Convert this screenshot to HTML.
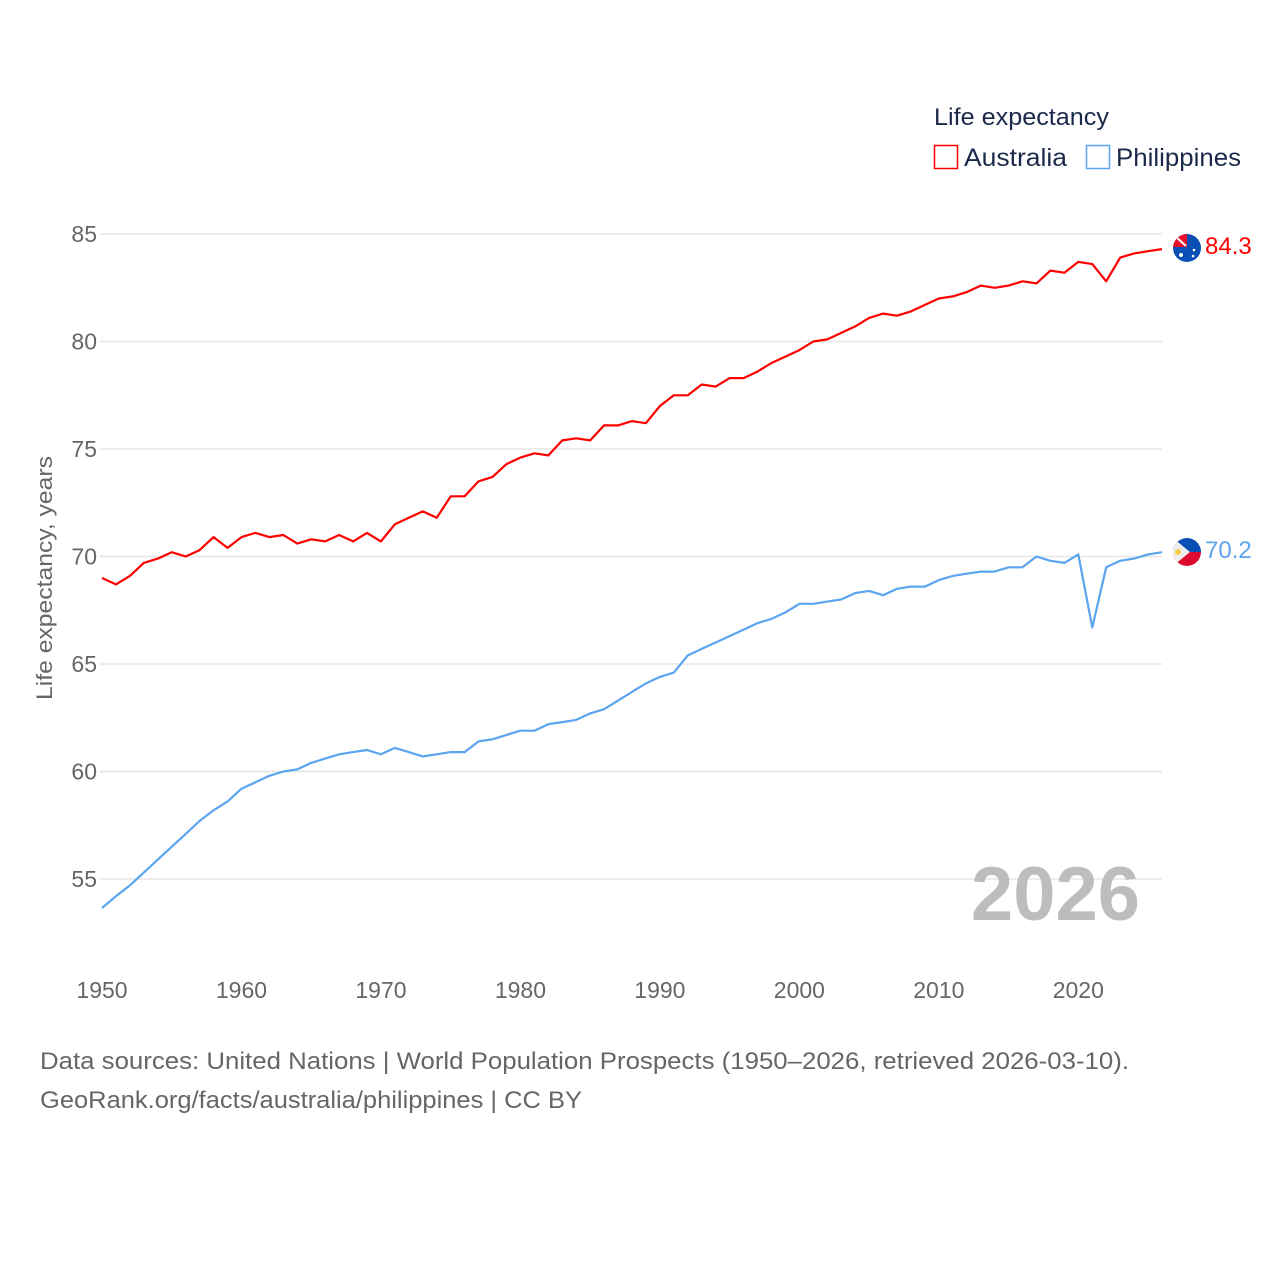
<!DOCTYPE html>
<html><head><meta charset="utf-8"><style>
body{margin:0;background:#fff;}
svg text{font-family:"Liberation Sans",sans-serif;}
</style></head><body>
<svg id="chart" width="1280" height="1280" viewBox="0 0 1280 1280" xmlns="http://www.w3.org/2000/svg">
<rect width="1280" height="1280" fill="#fff"/>
<g id="grid"></g>
<g id="yticks"></g>
<g id="xticks"></g>
<text x="52" y="578" transform="rotate(-90 52 578)" text-anchor="middle" font-size="22" fill="#666" textLength="244" lengthAdjust="spacingAndGlyphs">Life expectancy, years</text>
<text x="1140" y="920" text-anchor="end" font-size="76" font-weight="bold" fill="#bdbdbd">2026</text>
<g id="series"></g>
<g>
<text x="934" y="125" font-size="24" fill="#1b2a4a" textLength="175" lengthAdjust="spacingAndGlyphs">Life expectancy</text>
<g>
<rect x="934.5" y="145.5" width="23" height="23" fill="none" stroke="#ff0000" stroke-width="1.5"/>
<text x="964" y="166" font-size="25" fill="#1b2a4a" textLength="103" lengthAdjust="spacingAndGlyphs">Australia</text></g>
<g>
<rect x="1086.5" y="145.5" width="23" height="23" fill="none" stroke="#5ba4ef" stroke-width="1.5"/>
<text x="1116" y="166" font-size="25" fill="#1b2a4a" textLength="125" lengthAdjust="spacingAndGlyphs">Philippines</text></g>
</g>
<g>
<clipPath id="ca"><circle cx="1187" cy="248" r="14"/></clipPath>
<g clip-path="url(#ca)"><rect x="1173" y="234" width="28" height="28" fill="#0a4fb5"/><rect x="1173" y="234" width="14" height="13" fill="#e8112d"/><path d="M1175 236 L1186 246" stroke="#fff" stroke-width="2"/><circle cx="1181" cy="255" r="2" fill="#fff"/><circle cx="1194" cy="250" r="1.3" fill="#fff"/><circle cx="1193" cy="256" r="1.3" fill="#fff"/></g></g>
<g>
<clipPath id="cp"><circle cx="1187" cy="552" r="14"/></clipPath>
<g clip-path="url(#cp)"><rect x="1173" y="538" width="28" height="14" fill="#0a4fb5"/><rect x="1173" y="552" width="28" height="14" fill="#dc0a2e"/><path d="M1173 538 L1190 552 L1173 566Z" fill="#eee"/><circle cx="1178" cy="552" r="3" fill="#f8cc46"/></g></g>
<text x="1205" y="254" font-size="24" fill="#ff0000">84.3</text>
<text x="1205" y="558" font-size="24" fill="#5ba4ef">70.2</text>
<text x="40" y="1069" font-size="24" fill="#666" textLength="1089" lengthAdjust="spacingAndGlyphs">Data sources: United Nations | World Population Prospects (1950–2026, retrieved 2026-03-10).</text>
<text x="40" y="1108" font-size="24" fill="#666" textLength="542" lengthAdjust="spacingAndGlyphs">GeoRank.org/facts/australia/philippines | CC BY</text>
</svg>
<script>
const startYear = 1950;
const australia = [69.0,68.7,69.1,69.7,69.9,70.2,70.0,70.3,70.9,70.4,70.9,71.1,70.9,71.0,70.6,70.8,70.7,71.0,70.7,71.1,70.7,71.5,71.8,72.1,71.8,72.8,72.8,73.5,73.7,74.3,74.6,74.8,74.7,75.4,75.5,75.4,76.1,76.1,76.3,76.2,77.0,77.5,77.5,78.0,77.9,78.3,78.3,78.6,79.0,79.3,79.6,80.0,80.1,80.4,80.7,81.1,81.3,81.2,81.4,81.7,82.0,82.1,82.3,82.6,82.5,82.6,82.8,82.7,83.3,83.2,83.7,83.6,82.8,83.9,84.1,84.2,84.3];
const philippines = [53.65,54.2,54.7,55.3,55.9,56.5,57.1,57.7,58.2,58.6,59.2,59.5,59.8,60.0,60.1,60.4,60.6,60.8,60.9,61.0,60.8,61.1,60.9,60.7,60.8,60.9,60.9,61.4,61.5,61.7,61.9,61.9,62.2,62.3,62.4,62.7,62.9,63.3,63.7,64.1,64.4,64.6,65.4,65.7,66.0,66.3,66.6,66.9,67.1,67.4,67.8,67.8,67.9,68.0,68.3,68.4,68.2,68.5,68.6,68.6,68.9,69.1,69.2,69.3,69.3,69.5,69.5,70.0,69.8,69.7,70.1,66.7,69.5,69.8,69.9,70.1,70.2];
const yTicks = [55,60,65,70,75,80,85];
const xTicks = [1950,1960,1970,1980,1990,2000,2010,2020];
const NS="http://www.w3.org/2000/svg";
function xs(yr){return 102+(yr-1950)*(1060/76);}
function ys(v){return 234+(85-v)*21.5;}
const grid=document.getElementById('grid'),yt=document.getElementById('yticks'),xt=document.getElementById('xticks'),ser=document.getElementById('series');
yTicks.forEach(v=>{
  const l=document.createElementNS(NS,'line');
  l.setAttribute('x1',100);l.setAttribute('x2',1162);l.setAttribute('y1',ys(v));l.setAttribute('y2',ys(v));
  l.setAttribute('stroke','#e6e6e6');l.setAttribute('stroke-width','1.5');
  
  
  grid.appendChild(l);
  const t=document.createElementNS(NS,'text');
  t.setAttribute('x',97);t.setAttribute('y',ys(v)+8);t.setAttribute('text-anchor','end');
  t.setAttribute('font-size','23');t.setAttribute('fill','#666');t.textContent=v;
  
  
  yt.appendChild(t);
});
xTicks.forEach(yr=>{
  const t=document.createElementNS(NS,'text');
  t.setAttribute('x',xs(yr));t.setAttribute('y',998);t.setAttribute('text-anchor','middle');
  t.setAttribute('font-size','23');t.setAttribute('fill','#666');t.textContent=yr;
  
  
  xt.appendChild(t);
});
function line(vals,color,name){
  const p=document.createElementNS(NS,'polyline');
  p.setAttribute('points',vals.map((v,i)=>xs(startYear+i).toFixed(1)+','+ys(v).toFixed(1)).join(' '));
  p.setAttribute('fill','none');p.setAttribute('stroke',color);p.setAttribute('stroke-width','2.2');p.setAttribute('stroke-linejoin','round');
  
  
  ser.appendChild(p);
}
line(australia,'#ff0000','australia-line');
line(philippines,'#5ba4ef','philippines-line');
</script>
</body></html>
